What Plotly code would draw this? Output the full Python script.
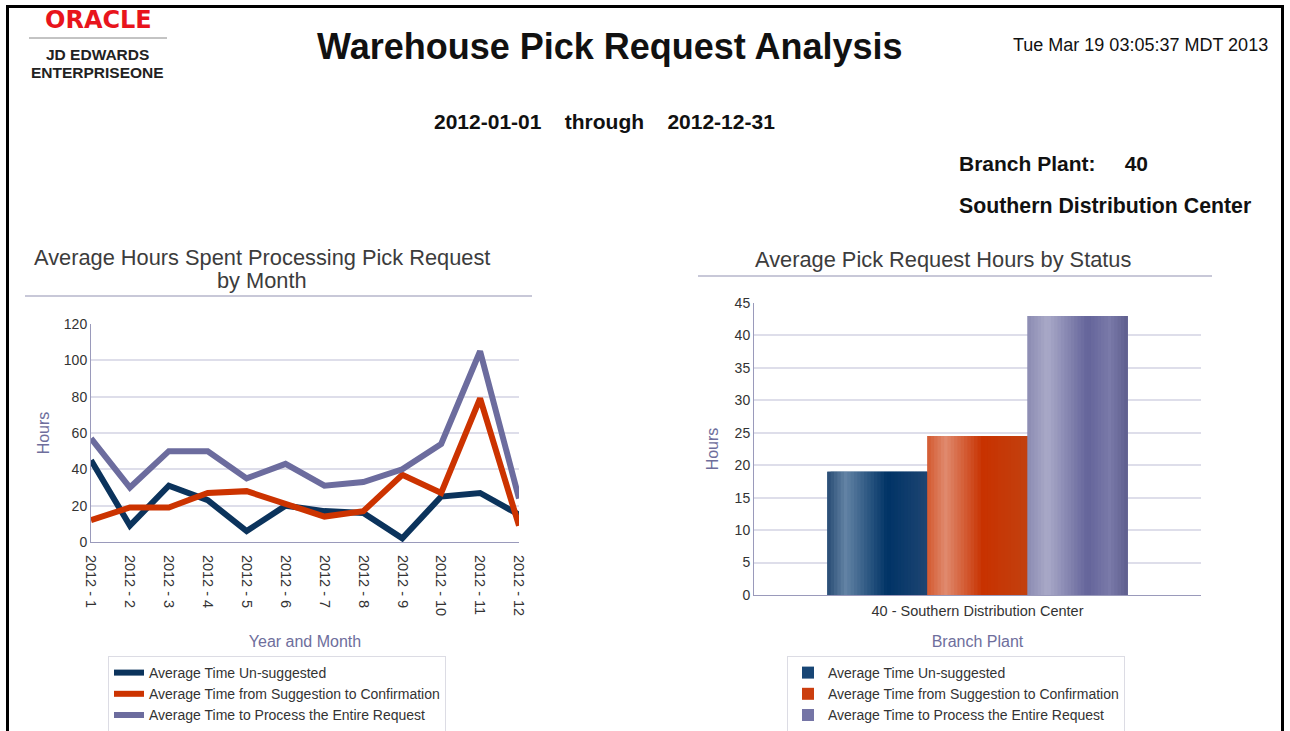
import plotly.graph_objects as go

# ---------------- data ----------------
months = ["2012 - 1", "2012 - 2", "2012 - 3", "2012 - 4", "2012 - 5", "2012 - 6",
          "2012 - 7", "2012 - 8", "2012 - 9", "2012 - 10", "2012 - 11", "2012 - 12"]
unsuggested = [45, 9, 31, 23, 6, 20, 17, 16, 2, 25, 27, 15]
suggestion_to_confirm = [12, 19, 19, 27, 28, 21, 14, 17, 37, 27, 79, 9]
entire_request = [57, 30, 50, 50, 35, 43, 31, 33, 40, 54, 105, 24]

series_names = ["Average Time Un-suggested",
                "Average Time from Suggestion to Confirmation",
                "Average Time to Process the Entire Request"]
branch_category = ["40 - Southern Distribution Center"]
status_hours = [19, 24.5, 43]

# ---------------- styling ----------------
W, H = 1290, 731
FONT = "Liberation Sans, Arial, sans-serif"
line_colors = ["#0b335c", "#cc3300", "#6c6c9e"]
bar_gradients = [
    [(0.0, "#274b74"), (0.18, "#6383a4"), (0.6, "#003366"), (1.0, "#1e4572")],
    [(0.0, "#d35a30"), (0.18, "#e08a6e"), (0.55, "#c83200"), (1.0, "#c2410f")],
    [(0.0, "#8c8cb2"), (0.2, "#a9a9c8"), (0.6, "#64649a"), (0.82, "#7a7aa9"), (1.0, "#5e5e8e")],
]
axis_title_color = "#6e6e9c"
grid_color = "#dedeea"
axis_line_color = "#9a9abb"
tick_color = "#333333"


def px(x):
    return x / W


def py(y):
    return 1 - y / H


def hex2rgb(h):
    h = h.lstrip("#")
    return tuple(int(h[i:i + 2], 16) for i in (0, 2, 4))


def interp(stops, t):
    for (t0, c0), (t1, c1) in zip(stops, stops[1:]):
        if t0 <= t <= t1:
            f = 0 if t1 == t0 else (t - t0) / (t1 - t0)
            a, b = hex2rgb(c0), hex2rgb(c1)
            return "rgb(%d,%d,%d)" % tuple(round(a[k] + (b[k] - a[k]) * f) for k in range(3))
    return stops[-1][1]


fig = go.Figure()

# ---------------- line chart ----------------
for name, vals, col in zip(series_names, [unsuggested, suggestion_to_confirm, entire_request], line_colors):
    fig.add_trace(go.Scatter(x=months, y=vals, mode="lines", name=name,
                             line=dict(color=col, width=6), xaxis="x", yaxis="y",
                             legend="legend"))

# ---------------- bar chart (gradient strips) ----------------
group_width = 0.672
bw = group_width / 3
N = 30
for i, (name, val) in enumerate(zip(series_names, status_hours)):
    start = -group_width / 2 + i * bw
    fig.add_trace(go.Bar(x=branch_category, y=[val], name=name, width=[bw], offset=[start],
                         marker=dict(color=interp(bar_gradients[i], 0.5), line=dict(width=0)),
                         xaxis="x2", yaxis="y2", legend="legend2"))
    for j in range(N):
        t = (j + 0.5) / N
        wj = bw / N * (2.0 if j < N - 1 else 1.0)
        fig.add_trace(go.Bar(x=branch_category, y=[val], width=[wj],
                             offset=[start + j * bw / N],
                             marker=dict(color=interp(bar_gradients[i], t), line=dict(width=0)),
                             showlegend=False, hoverinfo="skip",
                             xaxis="x2", yaxis="y2"))

TICKFONT = dict(size=14, color=tick_color, family=FONT)
TITLEFONT = dict(size=16, color=axis_title_color, family=FONT)
LEGFONT = dict(size=14, color="#333", family=FONT)

fig.update_layout(
    width=W, height=H,
    margin=dict(l=0, r=0, t=0, b=0, autoexpand=False),
    paper_bgcolor="white", plot_bgcolor="white",
    font=dict(family=FONT, color="#222"),
    barmode="overlay",
    showlegend=True,
    xaxis=dict(domain=[px(91), px(519)], type="category", range=[0, 11], tickangle=90,
               showgrid=False, zeroline=False, showline=True, linecolor=axis_line_color,
               ticks="", tickfont=dict(size=14.5, color=tick_color, family=FONT), automargin=False,
               ticklabelstandoff=9,
               title=dict(text="Year and Month", font=TITLEFONT, standoff=20),
               anchor="y"),
    yaxis=dict(domain=[py(542), py(324)], range=[0, 120], dtick=20,
               showgrid=True, gridcolor=grid_color, gridwidth=1.5,
               zeroline=False, showline=True, linecolor=axis_line_color,
               ticks="", tickfont=TICKFONT, automargin=False,
               title=dict(text="Hours", font=TITLEFONT, standoff=10),
               anchor="x"),
    xaxis2=dict(domain=[px(754), px(1201)], type="category", range=[-0.5, 0.5],
                showgrid=False, zeroline=False, showline=True, linecolor=axis_line_color,
                ticks="", tickfont=dict(size=14.5, color=tick_color, family=FONT), automargin=False,
                ticklabelstandoff=3,
                title=dict(text="Branch Plant", font=TITLEFONT, standoff=17),
                anchor="y2"),
    yaxis2=dict(domain=[py(595), py(303)], range=[0, 45], dtick=5,
                showgrid=True, gridcolor=grid_color, gridwidth=1.5,
                zeroline=False, showline=True, linecolor=axis_line_color,
                ticks="", tickfont=TICKFONT, automargin=False,
                title=dict(text="Hours", font=TITLEFONT, standoff=12),
                anchor="x2"),
    legend=dict(x=px(108), y=py(656), xanchor="left", yanchor="top",
                bordercolor="#dcdce4", borderwidth=1, bgcolor="white",
                font=LEGFONT, tracegroupgap=0, itemwidth=30),
    legend2=dict(x=px(787), y=py(656), xanchor="left", yanchor="top",
                 bordercolor="#dcdce4", borderwidth=1, bgcolor="white",
                 font=LEGFONT, tracegroupgap=0, itemwidth=30),
)

# ---------------- page decorations ----------------
shapes = [
    dict(type="line", xref="paper", yref="paper", x0=px(6), x1=px(1284), y0=py(6.5), y1=py(6.5),
         line=dict(color="black", width=3)),
    dict(type="line", xref="paper", yref="paper", x0=px(7.5), x1=px(7.5), y0=py(5), y1=0,
         line=dict(color="black", width=3)),
    dict(type="line", xref="paper", yref="paper", x0=px(1282.5), x1=px(1282.5), y0=py(5), y1=0,
         line=dict(color="black", width=3)),
    dict(type="line", xref="paper", yref="paper", x0=px(29), x1=px(167), y0=py(38), y1=py(38),
         line=dict(color="#888", width=1)),
    dict(type="line", xref="paper", yref="paper", x0=px(25), x1=px(532), y0=py(296), y1=py(296),
         line=dict(color="#c8c8d8", width=2)),
    dict(type="line", xref="paper", yref="paper", x0=px(698), x1=px(1212), y0=py(276), y1=py(276),
         line=dict(color="#c8c8d8", width=2)),
]
fig.update_layout(shapes=shapes)

ann = [
    dict(text="<b>ORACLE</b>", x=px(98), y=py(20), font=dict(size=24, color="#e8141c", family="DejaVu Sans, sans-serif")),
    dict(text="<b>JD EDWARDS</b>", x=px(97), y=py(55), font=dict(size=15.5, color="#222", family=FONT)),
    dict(text="<b>ENTERPRISEONE</b>", x=px(97), y=py(72.5), font=dict(size=15.5, color="#222", family=FONT)),
    dict(text="<b>Warehouse Pick Request Analysis</b>", x=px(610), y=py(46), font=dict(size=36, color="#111", family=FONT)),
    dict(text="Tue Mar 19 03:05:37 MDT 2013", x=px(1270), y=py(45), xanchor="right", font=dict(size=18, color="#111", family=FONT)),
    dict(text="<b>2012-01-01&nbsp;&nbsp;&nbsp;&nbsp;through&nbsp;&nbsp;&nbsp;&nbsp;2012-12-31</b>", x=px(604), y=py(121), font=dict(size=21, color="#111", family=FONT)),
    dict(text="<b>Branch Plant:&nbsp;&nbsp;&nbsp;&nbsp;&nbsp;40</b>", x=px(957), y=py(163), xanchor="left", font=dict(size=21, color="#111", family=FONT)),
    dict(text="<b>Southern Distribution Center</b>", x=px(957), y=py(206), xanchor="left", font=dict(size=21.3, color="#111", family=FONT)),
    dict(text="Average Hours Spent Processing Pick Request", x=px(262), y=py(257),
         font=dict(size=21.8, color="#3c3c3c", family=FONT)),
    dict(text="by Month", x=px(262), y=py(281),
         font=dict(size=21.8, color="#3c3c3c", family=FONT)),
    dict(text="Average Pick Request Hours by Status", x=px(943), y=py(260),
         font=dict(size=21.8, color="#3c3c3c", family=FONT)),
]
for a in ann:
    a.setdefault("xanchor", "center")
    fig.add_annotation(xref="paper", yref="paper", showarrow=False, yanchor="middle", **a)

fig.write_html("out.html", config={"displayModeBar": False},
               post_script="document.body.style.margin='0px';document.body.style.overflow='hidden';")
